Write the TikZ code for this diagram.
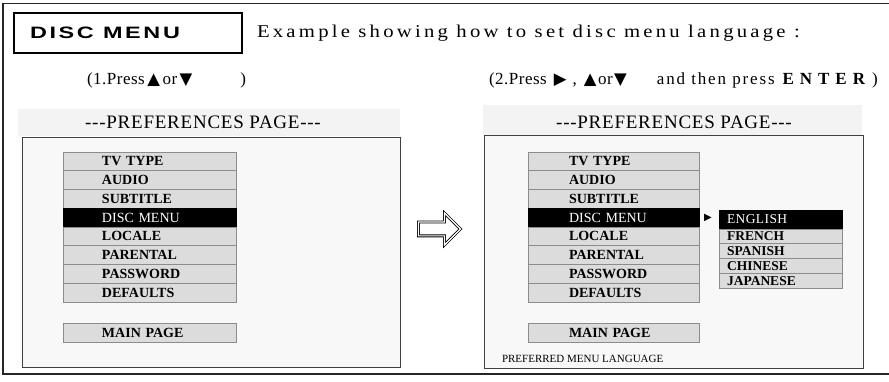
\documentclass[tikz,border=0pt]{standalone}
\usepackage{fontspec}
\setmainfont{Liberation Serif}
\newfontfamily\trifont{DejaVu Sans}
\newfontfamily\headsans[LetterSpace=16,FakeStretch=1.42]{Liberation Sans}
\newfontfamily\trackedwide[LetterSpace=18,FakeStretch=1.15]{Liberation Serif}
\newfontfamily\trackedmid[LetterSpace=11]{Liberation Serif}
\newfontfamily\trackedsmall[LetterSpace=3]{Liberation Serif}
\newfontfamily\trackedtitle[LetterSpace=4]{Liberation Serif}
\newfontfamily\trackedenter[LetterSpace=35]{Liberation Serif}
\usetikzlibrary{shapes.arrows}
\definecolor{rowgray}{HTML}{DCDCDC}
\definecolor{rowline}{HTML}{8C8C8C}
\definecolor{scrfill}{HTML}{F8F8F8}
\definecolor{bandfill}{HTML}{F3F3F3}
\newcommand{\tri}[1]{{\trifont\fontsize{16.5}{16.5}\selectfont #1}}
\tikzset{
  every node/.style={inner sep=0pt, outer sep=0pt},
  screen/.style={draw=black!75, line width=0.9pt, fill=scrfill, anchor=north west},
  band/.style={fill=bandfill, anchor=north west},
  rowbox/.style={draw=rowline, line width=0.6pt, fill=rowgray, anchor=north west,
    minimum height=18.75, align=left,
    font=\bfseries\fontsize{14}{14}\selectfont},
  rowsel/.style={rowbox, fill=black, draw=black, text=white,
    font=\fontsize{14}{14}\selectfont},
  langbox/.style={rowbox, minimum height=14.75, text width=123pt,
    font=\bfseries\fontsize{13.5}{13.5}\selectfont, execute at begin node={\hspace*{8pt}}},
  langsel/.style={langbox, minimum height=19, fill=black, draw=black, text=white,
    font=\trackedsmall\fontsize{13.5}{13.5}\selectfont},
  leftrow/.style={text width=173pt, execute at begin node={\hspace*{39pt}}},
  rightrow/.style={text width=171pt, execute at begin node={\hspace*{41pt}}},
  pagetitle/.style={font=\trackedtitle\fontsize{19}{19}\selectfont},
  steptext/.style={anchor=west, font=\trackedsmall\fontsize{17}{17}\selectfont},
}
\begin{document}
\begin{tikzpicture}[x=1pt,y=-1pt]
\useasboundingbox (0,0) rectangle (889,382);
\clip (0,0) rectangle (889,382);
% outer frame
\draw[line width=1.6pt, black!85] (3,3.5) rectangle (895,374);
% heading box
\node[draw, line width=1.3pt, minimum width=228, minimum height=40, anchor=north west] (hbox) at (14,13) {};
\node[anchor=west, font=\headsans\bfseries\fontsize{16.5}{16.5}\selectfont] (htext) at (30,33) {DISC MENU};
\node[anchor=west, font=\trackedwide\fontsize{18}{18}\selectfont] (example) at (257,33.5) {Example showing how to set disc menu language :};
% steps
\node[steptext] (step1) at (87,80) {(1.Press\hspace{2.5pt}\tri{▲}\hspace{2.5pt}or\hspace{2.5pt}\tri{▼}\hspace{48pt})};
\node[steptext] (step2) at (489,80) {(2.Press\hspace{7pt}\tri{▶}\hspace{6pt},\hspace{7pt}\tri{▲}\hspace{1.5pt}or\hspace{1.5pt}\tri{▼}\hspace{30pt}{\trackedmid and then press}\hspace{8pt}{\bfseries\trackedenter ENTER}\hspace{7pt})};

% ---------- left screen ----------
\node[band, minimum width=382, minimum height=27] (bandL) at (18,109) {};
\node[pagetitle] (titleL) at (203,122) {---PREFERENCES PAGE---};
\node[screen, minimum width=378, minimum height=230] (scrL) at (22,137) {};
\foreach \s/\t [count=\i] in {rowbox/TV TYPE, rowbox/AUDIO, rowbox/SUBTITLE, rowsel/DISC MENU,
  rowbox/LOCALE, rowbox/PARENTAL, rowbox/PASSWORD, rowbox/DEFAULTS}
  \node[\s, leftrow] (L\i) at (63,{152+(\i-1)*18.75}) {\t};
\node[rowbox, leftrow, minimum height=19] (Lmain) at (63,323) {MAIN PAGE};

% ---------- transition arrow ----------
\node[single arrow, draw=black, double=white, double distance=1.2pt, line width=0.8pt,
  fill=white, minimum height=42, inner sep=6.5pt, single arrow head extend=9pt] (go) at (436,229) {};

% ---------- right screen ----------
\node[band, minimum width=379, minimum height=30] (bandR) at (483,105) {};
\node[pagetitle] (titleR) at (674,122) {---PREFERENCES PAGE---};
\node[screen, minimum width=379, minimum height=233] (scrR) at (484,135) {};
\foreach \s/\t [count=\i] in {rowbox/TV TYPE, rowbox/AUDIO, rowbox/SUBTITLE, rowsel/DISC MENU,
  rowbox/LOCALE, rowbox/PARENTAL, rowbox/PASSWORD, rowbox/DEFAULTS}
  \node[\s, rightrow] (R\i) at (528,{152+(\i-1)*18.75}) {\t};
\node[rowbox, rightrow, minimum height=19] (Rmain) at (528,323) {MAIN PAGE};

% language submenu
\node[font=\trifont\fontsize{10}{10}\selectfont] (ptr) at (708,218) {▶};
\node[langsel] (lang1) at (719,210) {ENGLISH};
\node[langbox] (lang2) at (719,229) {FRENCH};
\node[langbox] (lang3) at (719,243.75) {SPANISH};
\node[langbox] (lang4) at (719,258.5) {CHINESE};
\node[langbox] (lang5) at (719,273.25) {JAPANESE};

\node[anchor=west, font=\fontsize{11}{11}\selectfont] (hint) at (502,359) {PREFERRED MENU LANGUAGE};
\end{tikzpicture}
\end{document}
